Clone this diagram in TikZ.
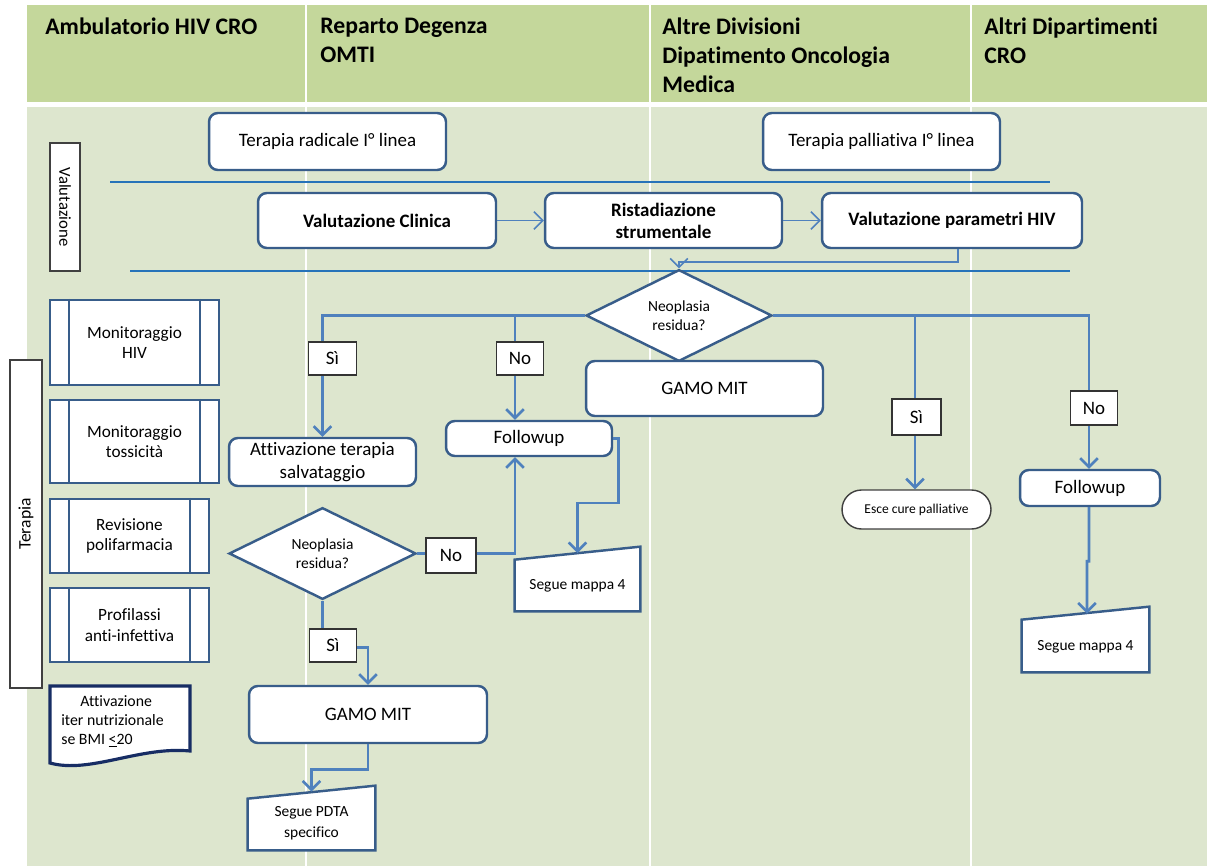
\documentclass[tikz,border=0pt]{standalone}
\usepackage{fontspec}
\setmainfont[Ligatures=NoCommon]{Carlito}
\usetikzlibrary{shapes.geometric, shapes.misc, positioning, arrows.meta, calc}

\definecolor{hdrgreen}{RGB}{196,215,155}
\definecolor{bodygreen}{RGB}{221,230,206}
\definecolor{boxblue}{RGB}{56,93,138}
\definecolor{linkblue}{RGB}{79,129,189}
\definecolor{laneblue}{RGB}{38,115,185}
\definecolor{docnavy}{RGB}{23,45,100}

\newcommand{\fsz}[2]{\fontsize{#1}{#2}\selectfont}

\begin{document}
\begin{tikzpicture}[x=0.02cm, y=-0.02cm,
  box/.style={draw=boxblue, line width=1.4pt, fill=white, rounded corners=5pt, align=center, inner sep=0pt, font=\fsz{10.8}{13}},
  bbox/.style={box, font=\bfseries\fsz{10.8}{12.5}},
  cond/.style={diamond, draw=boxblue, line width=1.4pt, fill=white, inner sep=0pt, align=center, font=\fsz{8.8}{10.8}},
  pre/.style={draw=boxblue, line width=1.4pt, fill=white, inner sep=0pt, align=center, font=\fsz{9.8}{11.5}},
  manual/.style={inner sep=0pt, align=center, font=\fsz{8.8}{12}},
  tag/.style={draw=black!80, line width=0.7pt, fill=white, minimum width=0.95cm, minimum height=0.66cm, inner sep=0pt, font=\fsz{10.8}{13}},
  side/.style={draw=black!75, line width=0.8pt, fill=white, inner sep=0pt},
  conn/.style={draw=linkblue, line width=1.5pt, -{Straight Barb[length=5pt,width=10pt]}},
  thinconn/.style={conn, line width=0.9pt},
  lane/.style={draw=laneblue, line width=1.3pt},
  head/.style={anchor=north west, inner sep=0pt, align=left, font=\bfseries\fsz{13.5}{16.4}}]

\useasboundingbox (0,0) rectangle (1207,866);

% background bands
\fill[hdrgreen] (27,5) rectangle (1207,102);
\fill[bodygreen] (27,107) rectangle (1207,866);
\foreach \xs in {306,650,971}
  \draw[white, line width=1.1pt] (\xs,5) -- (\xs,866);

% column titles
\node[head] (h1) at (45,18) {Ambulatorio HIV CRO};
\node[head] (h2) at (320,18) {Reparto Degenza\\OMTI};
\node[head] (h3) at (662,18) {Altre Divisioni\\Dipatimento Oncologia\\Medica};
\node[head] (h4) at (984,18) {Altri Dipartimenti\\CRO};

% lanes
\draw[lane] (110,182) -- (1050,182);
\draw[lane] (130,271) -- (1070,271);

% side labels
\node[side, minimum width=2.56cm, minimum height=0.6cm, rotate=-90, font=\fsz{9.5}{11}] (val) at (65,207) {Valutazione};
\node[side, minimum width=6.56cm, minimum height=0.64cm, rotate=90, font=\fsz{10}{12}] (ter) at (26,524) {Terapia};

% starting points
\node[box, minimum width=4.74cm, minimum height=1.14cm] (rad) at (327.5,141.5) {Terapia radicale I° linea};
\node[box, minimum width=4.74cm, minimum height=1.14cm] (pal) at (881.5,141.5) {Terapia palliativa I° linea};

% valutazione
\node[bbox, minimum width=4.76cm, minimum height=1.1cm] (clin) at (377,220.5) {Valutazione Clinica};
\node[bbox, minimum width=4.74cm, minimum height=1.1cm] (rist) at (663.5,220.5) {Ristadiazione\\strumentale};
\node[bbox, minimum width=5.2cm, minimum height=1.1cm] (parhiv) at (952,220.5) {Valutazione parametri HIV};

% decisions and steps
\node[cond, minimum width=3.72cm, minimum height=1.74cm] (neo1) at (679,315.5) {Neoplasia\\residua?};
\node[box, minimum width=4.74cm, minimum height=1.1cm] (gamo1) at (704.5,388.5) {GAMO MIT};
\node[box, minimum width=3.74cm, minimum height=0.96cm] (salv) at (322.5,462) {Attivazione terapia\\salvataggio};
\node[box, minimum width=3.32cm, minimum height=0.7cm] (fup1) at (529,438.5) {Followup};
\node[cond, minimum width=3.74cm, minimum height=1.78cm] (neo2) at (322.5,553.5) {Neoplasia\\residua?};
\node[box, minimum width=4.76cm, minimum height=1.14cm] (gamo2) at (368,714.5) {GAMO MIT};
\node[box, minimum width=2.8cm, minimum height=0.72cm] (fup2) at (1090,488) {Followup};
\node[rounded rectangle, draw=black!75, line width=0.8pt, fill=white, minimum width=2.98cm, minimum height=0.78cm, inner sep=0pt, font=\fsz{7.7}{9}] (esce) at (916.5,509.5) {Esce cure palliative};

% manual inputs
\node[manual, minimum width=2.5cm, minimum height=1.28cm] (map1) at (577.5,579) {};
\node[manual, minimum width=2.54cm, minimum height=1.3cm] (map2) at (1085.5,639.5) {};
\node[manual, minimum width=2.54cm, minimum height=1.28cm] (pdta) at (311.5,818) {};
\foreach \m in {map1,map2,pdta}
  \draw[draw=boxblue, line width=1.4pt, fill=white] (\m.south west) -- ([yshift=-0.26cm]\m.north west) -- (\m.north east) -- (\m.south east) -- cycle;
\node[manual] at ([yshift=-0.14cm]map1.center) {Segue mappa 4};
\node[manual] at ([yshift=-0.14cm]map2.center) {Segue mappa 4};
\node[manual] at ([yshift=-0.1cm]pdta.center) {Segue PDTA\\specifico};

% left column
\node[pre, minimum width=3.38cm, minimum height=1.7cm] (mhiv) at (134.5,342.5) {Monitoraggio\\HIV};
\node[pre, minimum width=3.38cm, minimum height=1.66cm] (mtox) at (134.5,441.5) {Monitoraggio\\tossicità};
\node[pre, minimum width=3.18cm, minimum height=1.48cm] (poli) at (129.5,536) {Revisione\\polifarmacia};
\node[pre, minimum width=3.18cm, minimum height=1.48cm] (prof) at (129.5,625) {Profilassi\\anti-infettiva};
\foreach \m in {mhiv,mtox,poli,prof} {
  \draw[boxblue, line width=1.4pt] ([xshift=0.4cm]\m.north west) -- ([xshift=0.4cm]\m.south west);
  \draw[boxblue, line width=1.4pt] ([xshift=-0.4cm]\m.north east) -- ([xshift=-0.4cm]\m.south east);
}
\draw[docnavy, line width=1.8pt, fill=white] (50,686) -- (190,686) -- (190,751) .. controls (140,746) and (90,774) .. (50,763) -- cycle;
\node[anchor=north west, inner sep=0pt, align=left, font=\fsz{9}{10.8}] (nutri) at (61,695) {\hspace*{0.38cm}Attivazione\\iter nutrizionale\\se BMI \underline{<}20};

% connectors
\draw[thinconn] (clin) -- (rist);
\draw[thinconn] (rist) -- (parhiv);
\draw[thinconn] ([xshift=0.12cm]parhiv.south) -- ++(0,13) -| (neo1.north);
\draw[conn] (neo1.west) -| (salv.north);
\draw[conn] (neo1.west) -| ([xshift=-0.28cm]fup1.north);
\draw[conn] (neo1.east) -| ([xshift=-0.03cm]esce.north);
\draw[conn] (neo1.east) -| ([xshift=-0.02cm]fup2.north);
\draw[conn] (neo2.east) -| ([xshift=-0.28cm]fup1.south);
\draw[conn] (fup1.east) -- ++(5,0) -- ++(0,64.5) -| ([yshift=-0.13cm]map1.north);
\draw[conn] (neo2.south) -- ++(0,47) -| (gamo2.north);
\draw[conn] (gamo2.south) -- ++(0,25) -| ([yshift=-0.12cm]pdta.north);
\draw[conn] ([xshift=-0.02cm]fup2.south) -- ++(0,54) -- ++(-2,0) -- ([xshift=0.03cm,yshift=-0.14cm]map2.north);

% branch tags
\node[tag] (si1) at (332.5,358.5) {Sì};
\node[tag] (no1) at (520,358.5) {No};
\node[tag, minimum width=0.98cm, minimum height=0.72cm] (si2) at (916.5,417) {Sì};
\node[tag, minimum height=0.68cm] (no2) at (1094,408) {No};
\node[tag, minimum width=1cm, minimum height=0.7cm] (no3) at (451,555.5) {No};
\node[tag] (si3) at (333,645.5) {Sì};

\end{tikzpicture}
\end{document}
